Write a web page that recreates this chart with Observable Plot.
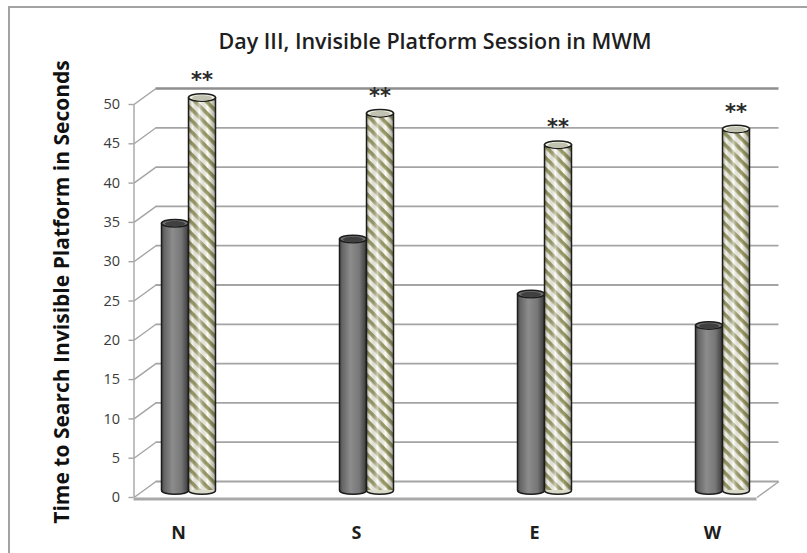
<!DOCTYPE html>
<html>
<head>
<meta charset="utf-8">
<script src="https://cdn.jsdelivr.net/npm/d3@7"></script>
<script src="https://cdn.jsdelivr.net/npm/@observablehq/plot@0.6"></script>
<style>
  html, body { margin: 0; padding: 0; background: #fff; overflow: hidden; }
  #border { position: absolute; left: 8px; top: 6px; width: 900px; height: 700px; border: 2px solid #a3a3a3; }
  #chart { position: absolute; left: 0; top: 0; }
</style>
</head>
<body>
<!-- paint servers for the cylinders -->
<svg width="0" height="0" style="position:absolute">
  <defs>
    <linearGradient id="grayBody" x1="0" x2="1" y1="0" y2="0">
      <stop offset="0" stop-color="#404040"/>
      <stop offset="0.12" stop-color="#656565"/>
      <stop offset="0.42" stop-color="#8c8c8c"/>
      <stop offset="0.75" stop-color="#777777"/>
      <stop offset="1" stop-color="#3e3e3e"/>
    </linearGradient>
    <pattern id="stripes" patternUnits="userSpaceOnUse" width="8" height="8" patternTransform="rotate(45)">
      <rect width="8" height="8" fill="#fdfdf4"/>
      <rect width="8" height="3.6" fill="#9a9a66"/>
    </pattern>
    <linearGradient id="stripeShade" x1="0" x2="1" y1="0" y2="0">
      <stop offset="0" stop-color="#2a2a1a" stop-opacity="0.45"/>
      <stop offset="0.16" stop-color="#2a2a1a" stop-opacity="0.05"/>
      <stop offset="0.42" stop-color="#ffffff" stop-opacity="0.5"/>
      <stop offset="0.72" stop-color="#2a2a1a" stop-opacity="0.0"/>
      <stop offset="1" stop-color="#2a2a1a" stop-opacity="0.4"/>
    </linearGradient>
  </defs>
</svg>
<div id="border"></div>
<div id="chart"></div>
<script>
// ---- data ----
const categories = ["N", "S", "E", "W"];
const grayTimes = [34, 32, 25, 21];
const stripedTimes = [50, 48, 44, 46];
const stars = ["**", "**", "**", "**"];
const yTicks = [0, 5, 10, 15, 20, 25, 30, 35, 40, 45, 50];
const title = "Day III, Invisible Platform Session in MWM";
const yLabel = "Time to Search Invisible Platform in Seconds";

// ---- geometry ----
const X_DOMAIN = [0, 4], X_RANGE = [89, 801];
const Y_DOMAIN = [0, 50], Y_RANGE = [497, 104];
const pxX = (X_RANGE[1] - X_RANGE[0]) / (X_DOMAIN[1] - X_DOMAIN[0]);
const pxY = (Y_RANGE[0] - Y_RANGE[1]) / (Y_DOMAIN[1] - Y_DOMAIN[0]);
const WALL = {dx: 22, dy: -16};   // offset of the back wall (pixels)
const MID = {dx: 10, dy: -7};     // offset of the plane the cylinders stand on
const BAR_PX = 27;
const barW = BAR_PX / pxX;
const floorL = 0.25, floorR = 3.75;
const depthX = WALL.dx / pxX, depthY = -WALL.dy / pxY;

const rows = categories.map((cat, i) => ({
  cat, pos: i + 0.5, gray: grayTimes[i], striped: stripedTimes[i], star: stars[i]
}));

// flattened ellipse symbol for the cylinder caps
const ellipse = (ratio) => ({
  draw(context, size) {
    const rx = Math.sqrt(size / Math.PI), ry = rx * ratio, k = 0.5523;
    context.moveTo(rx, 0);
    context.bezierCurveTo(rx, ry * k, rx * k, ry, 0, ry);
    context.bezierCurveTo(-rx * k, ry, -rx, ry * k, -rx, 0);
    context.bezierCurveTo(-rx, -ry * k, -rx * k, -ry, 0, -ry);
    context.bezierCurveTo(rx * k, -ry, rx, -ry * k, rx, 0);
    context.closePath();
  }
});
const cap = ellipse(0.28);
const OUTLINE = "#1c1c1c";

function cylinder(key, side, style) {
  const x1 = d => d.pos + (side < 0 ? -barW : 0);
  const x2 = d => x1(d) + barW;
  const xc = d => x1(d) + barW / 2;
  const v = d => d[key];
  const off = {dx: MID.dx, dy: MID.dy};
  const marks = [
    Plot.dot(rows, {x: xc, y: () => 0, r: BAR_PX / 2, symbol: cap, fill: style.bottom, stroke: OUTLINE, strokeWidth: 1.5, ...off}),
    Plot.rect(rows, {x1, x2, y1: () => 0, y2: v, fill: style.body, ...off})
  ];
  if (style.overlay) marks.push(Plot.rect(rows, {x1, x2, y1: () => 0, y2: v, fill: style.overlay, ...off}));
  marks.push(
    Plot.ruleX(rows, {x: x1, y1: () => 0, y2: v, stroke: OUTLINE, strokeWidth: 1.5, ...off}),
    Plot.ruleX(rows, {x: x2, y1: () => 0, y2: v, stroke: OUTLINE, strokeWidth: 1.5, ...off}),
    Plot.dot(rows, {x: xc, y: v, r: BAR_PX / 2, symbol: cap, fill: style.top, stroke: OUTLINE, strokeWidth: 1.5, ...off}),
    Plot.dot(rows, {x: xc, y: v, r: BAR_PX / 2 - 3.5, symbol: cap, fill: style.inner, dx: MID.dx, dy: MID.dy + 0.6})
  );
  return marks;
}

const gridColor = "#a4a4a4";

const chart = Plot.plot({
  width: 807,
  height: 553,
  marginTop: 0, marginRight: 0, marginBottom: 0, marginLeft: 0,
  style: {fontFamily: "'Open Sans', sans-serif", background: "transparent"},
  x: {domain: X_DOMAIN, range: X_RANGE, axis: null},
  y: {domain: Y_DOMAIN, range: Y_RANGE, axis: null},
  marks: [
    // back wall gridlines
    Plot.ruleY(yTicks, {y: d => d, x1: () => floorL, x2: () => floorR, dx: WALL.dx, dy: WALL.dy,
      stroke: d => d === 50 ? "#8e8e8e" : gridColor, strokeWidth: d => d === 50 ? 2.6 : 1.8}),
    // side-wall tick diagonals
    Plot.link(yTicks, {x1: () => floorL, y1: d => d, x2: () => floorL + depthX, y2: d => d + depthY,
      stroke: gridColor, strokeWidth: 1.4}),
    // short outward ticks on the front axis
    Plot.ruleY(yTicks, {y: d => d, x1: () => floorL - 5 / pxX, x2: () => floorL, stroke: gridColor, strokeWidth: 1.4}),
    // front vertical axis
    Plot.ruleX([floorL], {x: d => d, y1: () => 0, y2: () => 50, stroke: gridColor, strokeWidth: 1.4}),
    // floor: front edge and right-hand depth edge
    Plot.ruleY([0], {y: d => d, x1: () => floorL, x2: () => floorR, dy: 1.5, stroke: "#a9a9a9", strokeWidth: 3.2}),
    Plot.link([0], {x1: () => floorR, y1: d => d, x2: () => floorR + depthX, y2: d => d + depthY,
      stroke: gridColor, strokeWidth: 1.4}),
    // cylinders
    ...cylinder("gray", -1, {bottom: "url(#grayBody)", body: "url(#grayBody)", top: "#707070", inner: "#404040"}),
    ...cylinder("striped", 1, {bottom: "#d9d9c8", body: "url(#stripes)", overlay: "url(#stripeShade)", top: "#f2f2e4", inner: "#c2c2b0"}),
    // significance marks
    Plot.text(rows, {x: d => d.pos + barW / 2, y: d => d.striped, text: d => d.star,
      dx: MID.dx, dy: MID.dy - 17, fontSize: 21, fontWeight: "bold", fontFamily: "'DejaVu Sans', sans-serif", fill: "#2a2a2a"}),
    // y tick labels
    Plot.text(yTicks, {x: () => floorL, y: d => d, text: d => String(d), textAnchor: "end", dx: -14,
      fontSize: 14.5, fill: "#3a3a3a"}),
    // category labels
    Plot.text(rows, {x: d => d.pos, y: () => 0, text: d => d.cat, dy: 36, fontSize: 18, fontWeight: "bold", fill: "#1e1e1e"}),
    // title
    Plot.text([title], {frameAnchor: "top", text: d => d, textAnchor: "middle", lineAnchor: "middle",
      dx: 31, dy: 42, fontSize: 21.5, fontWeight: 600, fill: "#1e1e1e"}),
    // y axis title
    Plot.text([yLabel], {frameAnchor: "left", text: d => d, rotate: -90, textAnchor: "middle", lineAnchor: "middle",
      dx: 62, dy: 15, fontSize: 21, fontWeight: "bold", fill: "#111"})
  ]
});
document.getElementById("chart").appendChild(chart);
</script>
</body>
</html>
